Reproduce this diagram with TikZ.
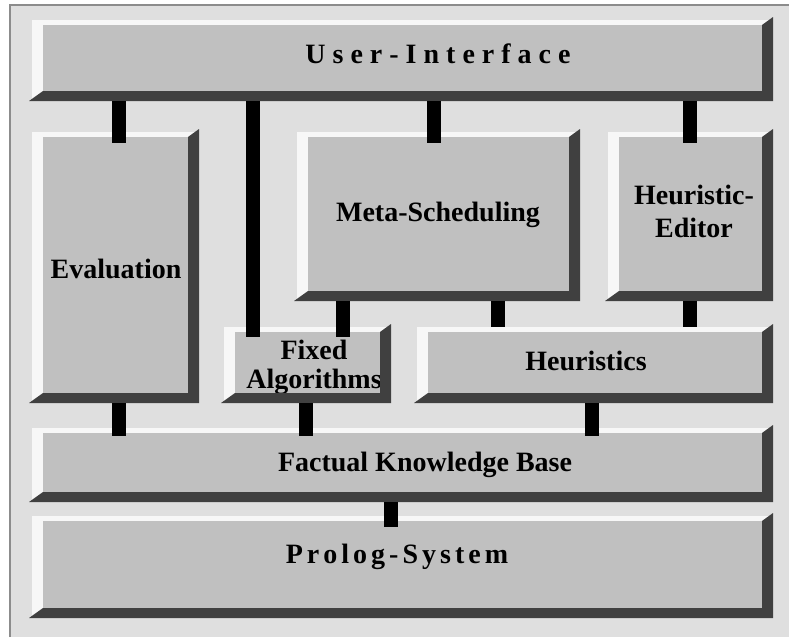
\documentclass[tikz,border=0pt]{standalone}
\usepackage{fontspec}
\setmainfont{Liberation Serif}
\usetikzlibrary{fit}
\definecolor{bgc}{HTML}{DFDFDF}
\definecolor{facec}{HTML}{C0C0C0}
\definecolor{hlc}{HTML}{F7F7F7}
\definecolor{shc}{HTML}{404040}
\definecolor{framec}{HTML}{8C8C8C}
\newdimen\spreadkern
\newcommand\spreadtxt[2]{\spreadkern=#1\relax\spreadloop#2\relax\unkern}
\def\spreadloop#1{\ifx#1\relax\else#1\kern\spreadkern\expandafter\spreadloop\fi}
% name, x0, y0, x1, y1  (pixels, y downwards)
\newcommand\bevelbox[5]{%
  \node[fit={(#2,#3)(#4,#5)}, inner sep=0pt, outer sep=0pt, fill=hlc] (#1) {};
  \fill[facec] (#2+11,#3+5) rectangle (#4-11,#5-10);
}
\newcommand\bevelshade[4]{%
  \fill[shc] (#1-3,#4) -- (#3,#4) -- (#3,#2-3) -- (#3-11,#2+5) -- (#3-11,#4-10) -- (#1+11,#4-10) -- cycle;
}
\tikzset{
  lbl/.style={font=\bfseries\fontsize{21}{21.75}\selectfont, inner sep=0pt, align=center},
  bar/.style={draw=black, line width=10.5pt}
}
\begin{document}
\begin{tikzpicture}[x=0.75pt, y=-0.75pt]
\useasboundingbox[fill=white] (0,0) rectangle (789,639);
\fill[bgc] (10,5) rectangle (789,637);
\draw[framec, line width=1.5pt] (10,637) -- (10,5) -- (789,5);
% boxes
\bevelbox{ui}{32}{20}{773}{101}
\bevelbox{eval}{32}{132}{199}{403}
\bevelbox{meta}{297}{132}{580}{301}
\bevelbox{he}{608}{132}{773}{301}
\bevelbox{fa}{224}{327}{391}{403}
\bevelbox{heur}{417}{327}{773}{403}
\bevelbox{fkb}{32}{428}{773}{502}
\bevelbox{pro}{32}{516}{773}{618}
% labels
\node[lbl, anchor=base] (tui) at (438,63) {\spreadtxt{5.25pt}{User-Interface}};
\node[lbl, anchor=base] (teval) at (116,278) {Evaluation};
\node[lbl, anchor=base] (tmeta) at (438,221) {Meta-Scheduling};
\node[lbl, font=\bfseries\fontsize{21}{24.75}\selectfont] (the) at (694,211) {Heuristic-\\Editor};
\node[lbl] (tfa) at (314,367) {Fixed\\Algorithms};
\node[lbl, anchor=base] (theur) at (586,370) {Heuristics};
\node[lbl, anchor=base] (tfkb) at (425,471) {Factual Knowledge Base};
\node[lbl, anchor=base] (tpro) at (397,563) {\spreadtxt{3pt}{Prolog-System}};
% shadows
\bevelshade{32}{20}{773}{101}
\bevelshade{32}{132}{199}{403}
\bevelshade{297}{132}{580}{301}
\bevelshade{608}{132}{773}{301}
\bevelshade{224}{327}{391}{403}
\bevelshade{417}{327}{773}{403}
\bevelshade{32}{428}{773}{502}
\bevelshade{32}{516}{773}{618}
% connector columns
\coordinate (c1) at (119,0);
\coordinate (c2) at (253,0);
\coordinate (c3) at (434,0);
\coordinate (c4) at (690,0);
\coordinate (c5) at (343,0);
\coordinate (c6) at (498,0);
\coordinate (c7) at (306,0);
\coordinate (c8) at (592,0);
\coordinate (c9) at (391,0);
% connectors
\draw[bar, shorten >=-8.25pt] (ui.south -| c1) -- (eval.north -| c1);
\draw[bar, shorten >=-7.5pt] (ui.south -| c2) -- (fa.north -| c2);
\draw[bar, shorten >=-8.25pt] (ui.south -| c3) -- (meta.north -| c3);
\draw[bar, shorten >=-8.25pt] (ui.south -| c4) -- (he.north -| c4);
\draw[bar, shorten >=-7.5pt] (meta.south -| c5) -- (fa.north -| c5);
\draw[bar] (meta.south -| c6) -- (heur.north -| c6);
\draw[bar] (he.south -| c4) -- (heur.north -| c4);
\draw[bar, shorten >=-6pt] (eval.south -| c1) -- (fkb.north -| c1);
\draw[bar, shorten >=-6pt] (fa.south -| c7) -- (fkb.north -| c7);
\draw[bar, shorten >=-6pt] (heur.south -| c8) -- (fkb.north -| c8);
\draw[bar, shorten >=-8.25pt] (fkb.south -| c9) -- (pro.north -| c9);
\end{tikzpicture}
\end{document}
